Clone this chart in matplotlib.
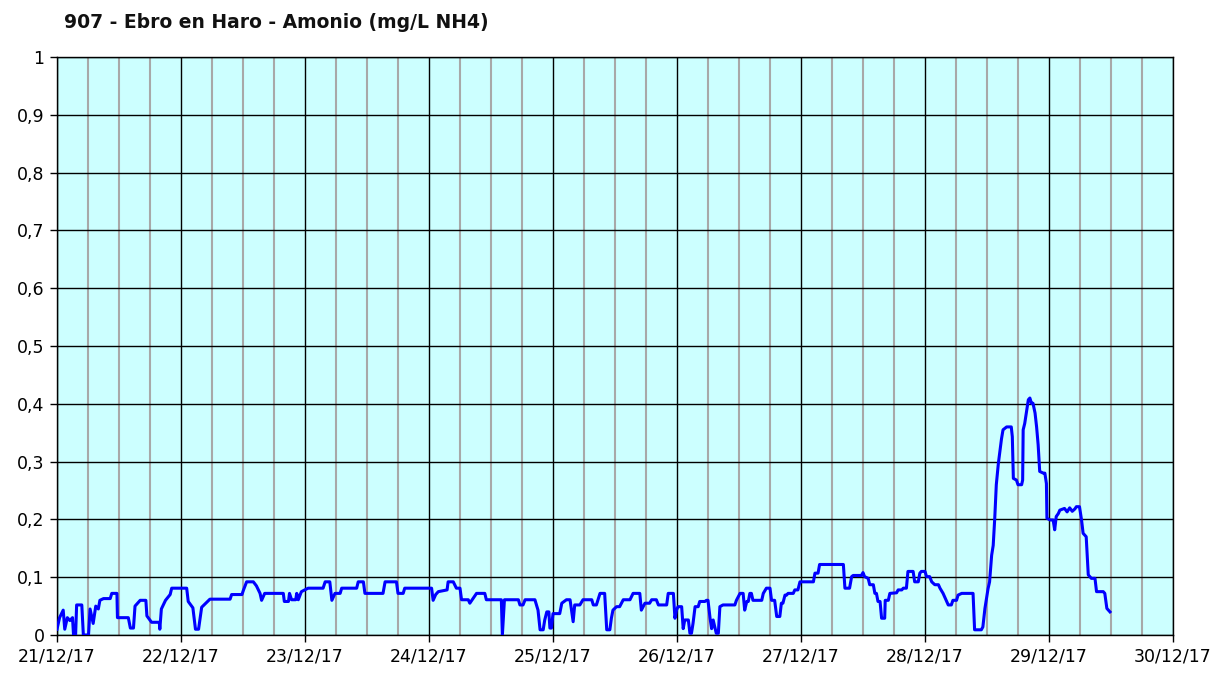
import pandas as pd
import numpy as np
import matplotlib
matplotlib.use("Agg")
import matplotlib.pyplot as plt
import matplotlib.dates as mdates
from matplotlib.ticker import FuncFormatter, MultipleLocator

# Datos: horas desde 21/12/17 00:00 y amonio (mg/L NH4)
horas = [
    0, 0.5, 1.2, 1.5, 2.0, 2.5, 3.0, 3.2, 3.6, 3.8, 4.8, 5.1, 6.1, 6.4, 7.0, 7.5, 8.0, 8.3, 9.0, 10.3,
    10.6, 11.6, 11.7, 13.8, 14.2, 14.8, 15.1, 16.1, 17.2, 17.4, 18.3, 19.8, 19.9, 20.2, 21.0, 21.9,
    22.2, 25.1, 25.4, 26.3, 26.8, 27.4, 28.0, 28.8, 29.6, 33.5, 33.8, 35.8, 36.1, 36.7, 38.0,
    38.6, 39.3, 39.6, 40.2, 43.8, 44.0, 44.8, 45.0, 45.4, 46.2, 46.4, 46.7, 47.3, 48.6, 51.5, 51.9,
    52.8, 53.2, 53.8, 54.8, 55.1, 58.0, 58.3, 59.3, 59.6, 63.1, 63.5, 65.7, 66.0, 67.0, 67.3, 72.5,
    72.8, 73.3, 73.8, 75.5, 75.7, 76.7, 77.3, 78.0, 78.3,
    79.6, 79.9, 80.6, 81.2, 82.8, 83.1, 86.0, 86.2, 86.6, 89.3, 89.6, 90.2, 90.6, 92.5, 93.1, 93.5,
    94.1, 94.4, 94.8, 95.2, 95.4, 95.7, 96.0, 97.3, 97.7, 98.6, 99.3, 99.9, 100.2, 101.2, 101.8,
    103.5, 103.8, 104.4, 105.1, 106.0, 106.4, 107.0, 107.3, 107.6, 108.3, 108.9, 109.6, 110.9,
    111.5, 112.8, 113.1, 113.8, 114.7, 115.1, 116.0, 116.4, 118.0, 118.3, 119.3,
    119.6, 119.9, 120.2, 120.9, 121.2, 121.5, 122.2, 122.5, 122.8, 123.1, 123.5, 124.1, 124.4,
    125.4, 125.7, 126.0, 126.4, 126.7, 127.0, 127.6, 128.0, 128.3, 128.9, 131.2, 131.5, 132.2,
    132.8, 133.1, 133.5, 133.8, 134.1, 134.4, 134.7, 136.4, 136.7, 137.3, 138.0, 138.3, 138.9,
    139.3, 139.9, 140.2, 140.5, 140.9, 141.2, 141.5, 142.5, 142.8, 143.4, 143.8, 146.4, 146.7,
    147.3, 147.6, 152.2, 152.5, 153.4, 153.8, 154.1, 155.7, 156.0, 156.3,
    157.0, 157.3, 158.0, 158.3, 158.6, 158.9, 159.3, 159.6, 160.2, 160.3, 160.9, 161.2, 162.5,
    162.8, 163.5, 163.8, 164.4, 164.7, 165.7, 166.0, 166.7, 167.0, 167.3, 168.0, 168.3, 168.9,
    169.3, 169.9, 170.6, 170.9, 171.5, 172.5, 173.1, 173.4, 174.1, 174.4, 175.1, 177.3,
    177.6, 178.9, 179.2, 179.6, 180.2, 180.5, 180.9, 181.2, 181.5, 181.8, 182.2, 182.8, 183.1,
    183.8, 184.7, 184.9, 185.1, 185.7, 186.0, 186.7, 186.9, 187.0, 187.3, 187.7, 188.0, 188.3,
    188.6, 188.9, 189.3, 189.6, 189.9, 190.2, 190.9, 191.2, 191.5, 191.6, 192.2, 192.8, 193.1,
    193.4, 193.8, 194.1, 195.0, 195.5, 196.0, 196.5, 197.0, 197.3, 197.9, 198.3, 198.6, 199.2,
    199.6, 200.2, 200.9, 201.2, 202.5, 202.8, 203.2, 203.8,
]
amonio = [
    0.01, 0.03, 0.043, 0.01, 0.03, 0.025, 0.03, 0.0, 0.0, 0.052, 0.052, 0.0, 0.0, 0.045, 0.02, 0.05, 0.045, 0.06, 0.063, 0.063,
    0.072, 0.072, 0.03, 0.03, 0.012, 0.012, 0.05, 0.06, 0.06, 0.033, 0.022, 0.022, 0.01, 0.045, 0.06, 0.07,
    0.081, 0.081, 0.058, 0.047, 0.01, 0.01, 0.048, 0.055, 0.062, 0.062, 0.07, 0.07, 0.078, 0.092, 0.092,
    0.085, 0.072, 0.06, 0.072, 0.072, 0.058, 0.058, 0.072, 0.061, 0.061, 0.072, 0.061, 0.075, 0.081, 0.081, 0.092,
    0.092, 0.06, 0.072, 0.072, 0.081, 0.081, 0.092, 0.092, 0.072, 0.072, 0.092, 0.092, 0.072, 0.072, 0.081, 0.081,
    0.06, 0.07, 0.075, 0.078, 0.092, 0.092, 0.081, 0.081, 0.061,
    0.061, 0.055, 0.064, 0.072, 0.072, 0.061, 0.061, 0.0, 0.061, 0.061, 0.052, 0.052, 0.061, 0.061, 0.043, 0.009,
    0.009, 0.026, 0.040, 0.040, 0.012, 0.012, 0.037, 0.037, 0.055, 0.061, 0.061, 0.023, 0.052, 0.052, 0.061,
    0.061, 0.052, 0.052, 0.072, 0.072, 0.009, 0.009, 0.029, 0.043, 0.049, 0.049, 0.061, 0.061,
    0.072, 0.072, 0.043, 0.055, 0.055, 0.061, 0.061, 0.052, 0.052, 0.072, 0.072,
    0.029, 0.043, 0.049, 0.049, 0.011, 0.026, 0.026, 0.003, 0.003, 0.02, 0.049, 0.049, 0.058,
    0.058, 0.06, 0.06, 0.029, 0.011, 0.026, 0.003, 0.003, 0.049, 0.052, 0.052, 0.06, 0.072,
    0.072, 0.043, 0.058, 0.058, 0.072, 0.072, 0.06, 0.06, 0.072, 0.081, 0.081, 0.06, 0.06,
    0.032, 0.032, 0.055, 0.055, 0.069, 0.069, 0.072, 0.072, 0.078, 0.078, 0.092, 0.092, 0.107,
    0.107, 0.122, 0.122, 0.081, 0.081, 0.101, 0.103, 0.103, 0.108, 0.101,
    0.098, 0.087, 0.087, 0.072, 0.072, 0.058, 0.058, 0.029, 0.029, 0.06, 0.06, 0.072, 0.073,
    0.078, 0.078, 0.081, 0.081, 0.110, 0.110, 0.092, 0.092, 0.107, 0.110, 0.110, 0.101, 0.101,
    0.092, 0.087, 0.087, 0.081, 0.072, 0.052, 0.052, 0.06, 0.06, 0.069, 0.072, 0.072,
    0.009, 0.009, 0.014, 0.046, 0.08, 0.092, 0.138, 0.155, 0.202, 0.26, 0.297, 0.339, 0.355,
    0.36, 0.36, 0.343, 0.271, 0.268, 0.26, 0.26, 0.268, 0.355, 0.366, 0.389, 0.407, 0.41,
    0.401, 0.401, 0.384, 0.36, 0.329, 0.283, 0.28, 0.28, 0.262, 0.202, 0.199, 0.199, 0.182,
    0.205, 0.21, 0.216, 0.219, 0.213, 0.22, 0.214, 0.218, 0.222, 0.222, 0.199, 0.176, 0.170,
    0.104, 0.098, 0.098, 0.075, 0.075, 0.072, 0.046, 0.04,
]
titulo = "907 - Ebro en Haro - Amonio (mg/L NH4)"
inicio = pd.Timestamp("2017-12-21")
fin = pd.Timestamp("2017-12-30")

fechas = inicio + pd.to_timedelta(horas, unit="h")

plt.rcParams["font.family"] = ["DejaVu Sans"]

fig = plt.figure(figsize=(12.32, 6.75), dpi=100)
ax = fig.add_axes([57 / 1232, 40 / 675, (1173 - 57) / 1232, (635 - 57) / 675])
ax.set_facecolor("#CCFFFF")

ax.plot(fechas, amonio, color="#0000FF", linewidth=2.2, zorder=3)

ax.set_xlim(inicio, fin)
ax.set_ylim(0, 1)

# Ejes
ax.xaxis.set_major_locator(mdates.DayLocator())
ax.xaxis.set_major_formatter(mdates.DateFormatter("%d/%m/%y"))
ax.xaxis.set_minor_locator(mdates.HourLocator(byhour=[6, 12, 18]))
ax.yaxis.set_major_locator(MultipleLocator(0.1))
ax.yaxis.set_major_formatter(FuncFormatter(
    lambda v, p: "0" if abs(v) < 1e-9 else ("1" if abs(v - 1) < 1e-9 else f"{v:.1f}".replace(".", ","))))

ax.grid(which="minor", axis="x", color="#A8A8A8", linewidth=1.5, zorder=1)
ax.grid(which="major", axis="both", color="black", linewidth=1.0, zorder=2)
ax.set_axisbelow(True)

ax.tick_params(which="major", length=5, width=1, labelsize=12.5, colors="black", pad=4)
ax.tick_params(which="minor", length=0)
for s in ax.spines.values():
    s.set_color("black")
    s.set_linewidth(1.0)

fig.text(64 / 1232, 1 - 22 / 675, titulo, fontsize=13.5, fontweight="bold",
         va="center", ha="left", color="#111111")

fig.savefig("out.png", dpi=100)
